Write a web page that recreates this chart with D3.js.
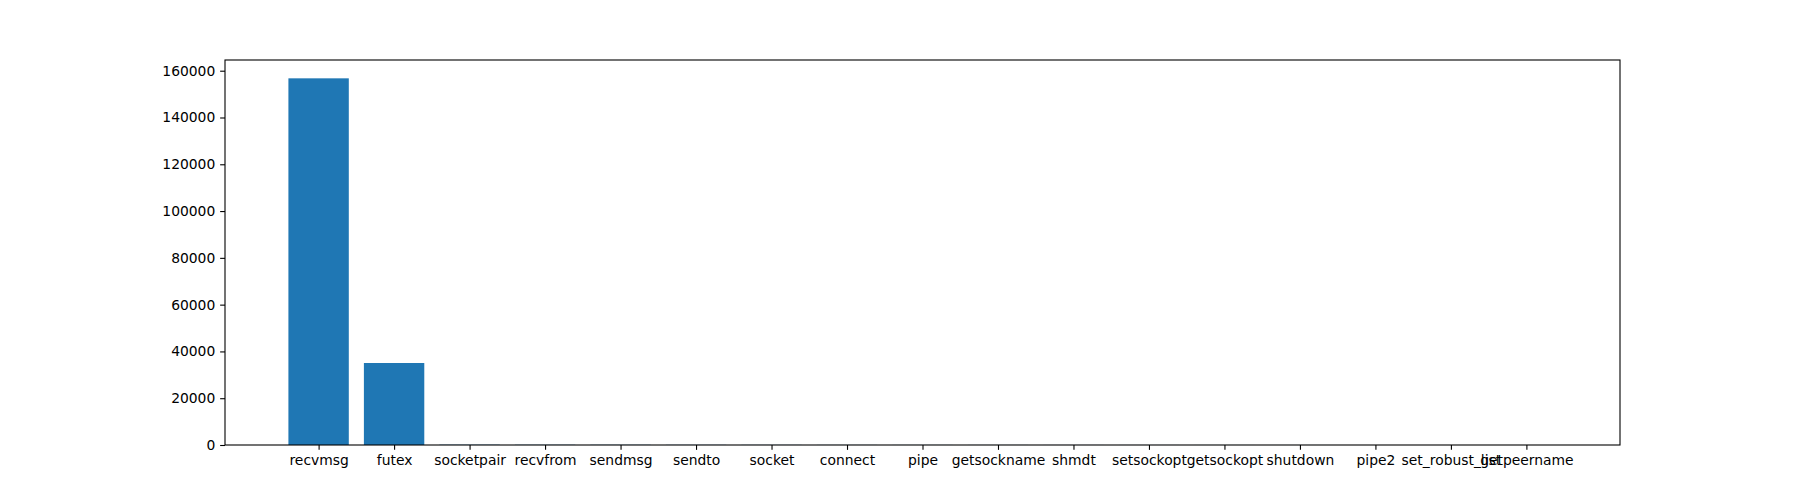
<!DOCTYPE html>
<html>
<head>
<meta charset="utf-8">
<script src="https://cdn.jsdelivr.net/npm/d3@7"></script>
<style>
body { margin: 0; background: #fff; }
svg text { font-family: "DejaVu Sans", sans-serif; font-size: 13.89px; fill: #000; }
</style>
</head>
<body>
<svg id="chart" width="1800" height="500"></svg>
<script>
const categories = ["recvmsg", "futex", "socketpair", "recvfrom", "sendmsg", "sendto", "socket", "connect", "pipe", "getsockname", "shmdt", "setsockopt", "getsockopt", "shutdown", "pipe2", "set_robust_list", "getpeername"];
const values = [156740, 35050, 120, 90, 80, 60, 50, 40, 30, 25, 20, 16, 12, 8, 4, 2, 1];
const yTicks = [0, 20000, 40000, 60000, 80000, 100000, 120000, 140000, 160000];

(function () {
const mLeft = 225, mRight = 1620, mTop = 60, mBottom = 445;
const svg = d3.select("#chart");

const n = categories.length;
const barW = 0.8;
const dmin = -barW / 2, dmax = n - 1 + barW / 2;
const pad = (dmax - dmin) * 0.05;
const x = d3.scaleLinear().domain([dmin - pad, dmax + pad]).range([mLeft, mRight]);
const ymax = d3.max(values) * 1.05;
const y = d3.scaleLinear().domain([0, ymax]).range([mBottom, mTop]);

svg.append("g").selectAll("rect").data(values).join("rect")
  .attr("x", (d, i) => x(i - barW / 2))
  .attr("width", (d, i) => x(i + barW / 2) - x(i - barW / 2))
  .attr("y", d => y(d))
  .attr("height", d => y(0) - y(d))
  .attr("fill", "#1f77b4");

const xAxis = d3.axisBottom(x).tickValues(d3.range(n)).tickFormat(i => categories[i])
  .tickSize(4.86).tickPadding(4.86).tickSizeOuter(0);
const gx = svg.append("g").attr("transform", `translate(0,${mBottom})`).call(xAxis);
gx.select(".domain").remove();
gx.selectAll("line").attr("stroke", "#000").attr("stroke-width", 1.1);
gx.selectAll("text").attr("dy", "0.76em").style("font-size", "13.89px");

const yAxis = d3.axisLeft(y).tickValues(yTicks).tickFormat(d3.format("d"))
  .tickSize(4.86).tickPadding(4.86).tickSizeOuter(0);
const gy = svg.append("g").attr("transform", `translate(${mLeft},0)`).call(yAxis);
gy.select(".domain").remove();
gy.selectAll("line").attr("stroke", "#000").attr("stroke-width", 1.1);
gy.selectAll("text").style("font-size", "13.89px");

svg.append("rect").attr("x", mLeft).attr("y", mTop)
  .attr("width", mRight - mLeft).attr("height", mBottom - mTop)
  .attr("fill", "none").attr("stroke", "#000").attr("stroke-width", 1.1);
})();
</script>
</body>
</html>
